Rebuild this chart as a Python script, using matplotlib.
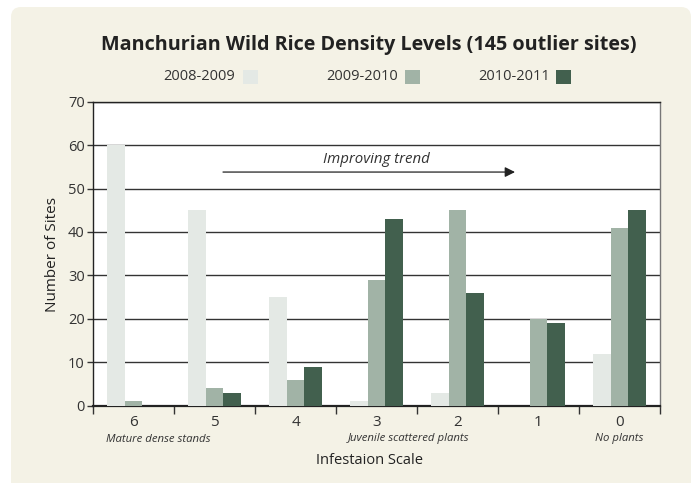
import matplotlib
matplotlib.use("Agg")
import matplotlib.pyplot as plt
from matplotlib.patches import FancyBboxPatch
import numpy as np

categories = ["6", "5", "4", "3", "2", "1", "0"]
series_names = ["2008-2009", "2009-2010", "2010-2011"]
s2008 = [60, 45, 25, 1, 3, 0, 12]
s2009 = [1, 4, 6, 29, 45, 20, 41]
s2010 = [0, 3, 9, 43, 26, 19, 45]
colors = ["#e4e9e5", "#a1b3a6", "#42604e"]
y_ticks = [0, 10, 20, 30, 40, 50, 60, 70]

plt.rcParams['font.family'] = ['Open Sans', 'DejaVu Sans']

W, H = 694, 483
fig = plt.figure(figsize=(W/100, H/100), dpi=100)
fig.patch.set_facecolor("white")

# cream rounded panel (inches)
bg = FancyBboxPatch((11/100, -0.3), (691-11)/100, (H-7)/100 + 0.3,
                    boxstyle="round,pad=0,rounding_size=0.1",
                    transform=fig.dpi_scale_trans, facecolor="#f4f2e6",
                    edgecolor="none", zorder=-10)
fig.patches.append(bg)

ax_l, ax_r, ax_t, ax_b = 93, 660, 101.7, 405.7
ax = fig.add_axes([ax_l/W, 1-ax_b/H, (ax_r-ax_l)/W, (ax_b-ax_t)/H])
ax.set_zorder(5)
ax.set_facecolor("white")

x = np.arange(len(categories))
bw = 0.222
for i, (vals, c) in enumerate(zip([s2008, s2009, s2010], colors)):
    ax.bar(x + (i-1)*bw, vals, width=bw, color=c, zorder=3, linewidth=0)

ax.set_xlim(-0.5, len(categories)-0.5)
ax.set_ylim(0, 70)
ax.set_yticks(y_ticks)
ax.set_yticklabels([str(v) for v in y_ticks], fontsize=10.5, color="#333333")
ax.yaxis.grid(True, color="#333333", linewidth=1.0, zorder=1)
ax.set_axisbelow(True)

ax.set_xticks(np.arange(len(categories)+1)-0.5, minor=False)
ax.set_xticklabels([])
ax.set_xticks(x, minor=True)
ax.set_xticklabels(categories, minor=True, fontsize=11, color="#333333")
ax.tick_params(axis="x", which="major", length=6, width=1, color="#333333", direction="out")
ax.tick_params(axis="x", which="minor", length=0, pad=7)
ax.tick_params(axis="y", length=4, width=1, color="#333333", pad=2)

for s in ["left", "top", "bottom"]:
    ax.spines[s].set_color("#222222")
    ax.spines[s].set_linewidth(1.0)
ax.spines["bottom"].set_linewidth(1.6)
ax.spines["right"].set_color("#777777")
ax.spines["right"].set_linewidth(1.0)

# sub labels
trans = ax.get_xaxis_transform()
sub_y = -(439-ax_b)/(ax_b-ax_t)
ax.text(0.3, sub_y, "Mature dense stands", transform=trans, ha="center", va="center",
        fontsize=8.2, style="italic", color="#333333")
ax.text(3.4, sub_y, "Juvenile scattered plants", transform=trans, ha="center", va="center",
        fontsize=8.2, style="italic", color="#333333")
ax.text(6.0, sub_y, "No plants", transform=trans, ha="center", va="center",
        fontsize=8.2, style="italic", color="#333333")

fig.text(369/W, 1-461/H, "Infestaion Scale", ha="center", va="center", fontsize=10.5, color="#222222")
fig.text(52/W, 1-254/H, "Number of Sites", ha="center", va="center", rotation=90,
         fontsize=11, color="#222222")

# trend arrow
ax.annotate("", xy=(4.71, 53.8), xytext=(1.105, 53.8),
            arrowprops=dict(arrowstyle="-|>,head_length=0.6,head_width=0.3",
                            color="#222222", lw=0.9, shrinkA=0, shrinkB=0), zorder=4)
ax.text(3.0, 56.6, "Improving trend", ha="center", va="center", fontsize=10.8,
        style="italic", color="#333333", zorder=4)

fig.text(369/W, 1-45/H, "Manchurian Wild Rice Density Levels (145 outlier sites)",
         ha="center", va="center", fontsize=14.2, fontweight="bold", color="#222222")

# legend
leg_y = 1-77/H
entries = [(235, 243), (398, 405), (550, 556)]
for (txt_r, sq_l), name, c in zip(entries, series_names, colors):
    fig.text(txt_r/W, leg_y, name, ha="right", va="center", fontsize=10.5, color="#333333")
    fig.patches.append(plt.Rectangle((sq_l/W, leg_y-7/H), 15/W, 14/H,
                                     transform=fig.transFigure, facecolor=c,
                                     edgecolor="none"))

fig.savefig("out.png", dpi=100, facecolor=fig.get_facecolor())
